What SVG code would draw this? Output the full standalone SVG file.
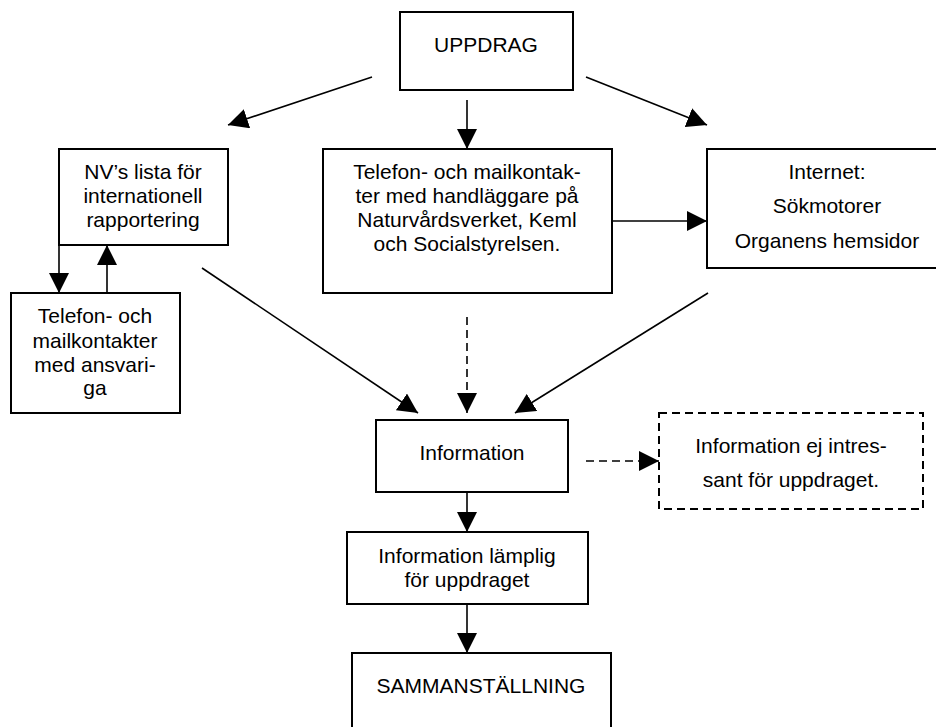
<svg xmlns="http://www.w3.org/2000/svg" width="936" height="727" viewBox="0 0 936 727">
<style>
.box{fill:#fff;stroke:#000;stroke-width:2}
.dbox{fill:#fff;stroke:#000;stroke-width:2;stroke-dasharray:8 5}
.t{font-family:"Liberation Sans",Arial,sans-serif;font-size:21px;fill:#000;text-anchor:middle}
.c{fill:none;stroke:#000;stroke-width:1.6;marker-end:url(#ah)}
.d{stroke-dasharray:8 5}
</style>
<defs>
<marker id="ah" markerUnits="userSpaceOnUse" markerWidth="20" markerHeight="20" refX="20" refY="10" orient="auto" viewBox="0 0 20 20">
<path d="M0,0 L20,10 L0,20 z" fill="#000"/>
</marker>
</defs>
<rect width="936" height="727" fill="#fff"/>
<g id="connectors">
<line class="c" x1="372" y1="77" x2="228" y2="125"/>
<line class="c" x1="467" y1="100" x2="467" y2="149"/>
<line class="c" x1="586" y1="77" x2="707" y2="125"/>
<line class="c" x1="611" y1="221" x2="707" y2="221"/>
<line class="c" x1="59" y1="245" x2="59" y2="293"/>
<line class="c" x1="107" y1="293" x2="107" y2="245"/>
<line class="c" x1="202" y1="268" x2="418" y2="413"/>
<line class="c d" x1="467" y1="317" x2="467" y2="413"/>
<line class="c" x1="708" y1="293" x2="515" y2="413"/>
<line class="c d" x1="586" y1="461" x2="659" y2="461"/>
<line class="c" x1="467" y1="492" x2="467" y2="532"/>
<line class="c" x1="467" y1="604" x2="467" y2="653"/>
</g>
<g id="uppdrag">
<rect class="box" x="400" y="12" width="173" height="78"/>
<text class="t" x="486" y="52">UPPDRAG</text>
</g>
<g id="nv-lista">
<rect class="box" x="59" y="149" width="169" height="96"/>
<text class="t" x="143" y="179">NV’s lista för</text>
<text class="t" x="143" y="203">internationell</text>
<text class="t" x="143" y="227">rapportering</text>
</g>
<g id="telefon-ansvariga">
<rect class="box" x="11" y="293" width="169" height="120"/>
<text class="t" x="95" y="323">Telefon- och</text>
<text class="t" x="95" y="348">mailkontakter</text>
<text class="t" x="95" y="372">med ansvari-</text>
<text class="t" x="95" y="395">ga</text>
</g>
<g id="telefon-handlaggare">
<rect class="box" x="323" y="149" width="289" height="144"/>
<text class="t" x="467" y="179">Telefon- och mailkontak-</text>
<text class="t" x="467" y="203">ter med handläggare på</text>
<text class="t" x="467" y="227">Naturvårdsverket, Keml</text>
<text class="t" x="467" y="251">och Socialstyrelsen.</text>
</g>
<g id="internet">
<rect class="box" x="707" y="149" width="240" height="119"/>
<text class="t" x="827" y="179">Internet:</text>
<text class="t" x="827" y="213">Sökmotorer</text>
<text class="t" x="827" y="248">Organens hemsidor</text>
</g>
<g id="information">
<rect class="box" x="376" y="420" width="192" height="72"/>
<text class="t" x="472" y="460">Information</text>
</g>
<g id="information-ej">
<rect class="dbox" x="659" y="413" width="264" height="96"/>
<text class="t" x="791" y="453">Information ej intres-</text>
<text class="t" x="791" y="487">sant för uppdraget.</text>
</g>
<g id="information-lamplig">
<rect class="box" x="347" y="532" width="241" height="72"/>
<text class="t" x="467" y="563">Information lämplig</text>
<text class="t" x="467" y="587">för uppdraget</text>
</g>
<g id="sammanstallning">
<rect class="box" x="352" y="653" width="259" height="90"/>
<text class="t" x="481" y="693">SAMMANSTÄLLNING</text>
</g>
</svg>
